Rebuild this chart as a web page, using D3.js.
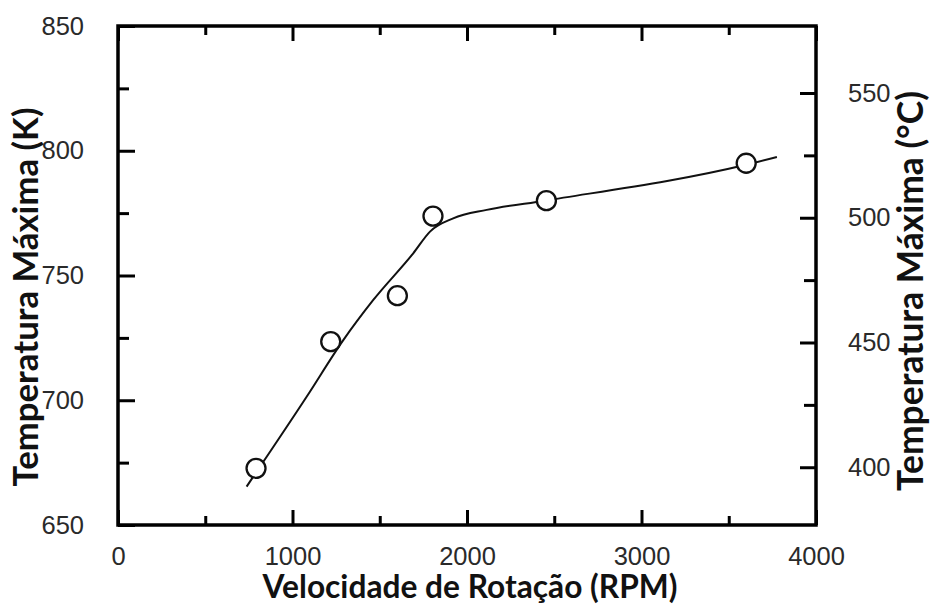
<!DOCTYPE html>
<html>
<head>
<meta charset="utf-8">
<script src="https://cdn.jsdelivr.net/npm/d3@7"></script>
<style>
  html, body { margin: 0; padding: 0; background: #fff; }
  svg { display: block; }
</style>
</head>
<body>
<svg id="chart" width="930" height="608"></svg>
<script>
// ---- data ----
const rpm = [791, 1219, 1601, 1805, 2455, 3600];
const tempK = [672.7, 723.5, 741.9, 773.8, 780, 795];
const fitRpm = [737, 1081, 1291, 1463, 1692, 1788, 1921, 2113, 2447, 3593, 3776];
const fitK = [665.4, 701.4, 724.1, 740.2, 758.9, 767.6, 772.9, 776.3, 780, 794.3, 797.5];
const xTicks = [0, 1000, 2000, 3000, 4000];
const xMinor = [500, 1500, 2500, 3500];
const yTicksK = [650, 700, 750, 800, 850];
const yMinorK = [675, 725, 775, 825];
const yTicksC = [400, 450, 500, 550];
const yMinorC = [425, 475, 525];
const xTitle = "Velocidade de Rotação (RPM)";
const yTitleL = "Temperatura Máxima (K)";
const yTitleR = "Temperatura Máxima (°C)";

const svg = d3.select("#chart");
const L = 118, R = 816, T = 26, B = 525;
const x = d3.scaleLinear().domain([0, 4000]).range([L, R]);
const y = d3.scaleLinear().domain([650, 850]).range([B, T]);
const yC = d3.scaleLinear().domain([650 - 273.15, 850 - 273.15]).range([B, T]);

const tickFont = "'Liberation Sans', Arial, sans-serif";
const titleFont = "Lato, 'Open Sans', sans-serif";

function styleAxis(g) {
  g.select(".domain").remove();
  g.selectAll("line").attr("stroke", "#000").attr("stroke-width", 3);
  g.selectAll("text").attr("font-family", tickFont).attr("font-size", 25.5).attr("fill", "#2a2a2a");
}
// bottom
svg.append("g").attr("transform", `translate(0,${B})`)
  .call(d3.axisBottom(x).tickValues(xTicks).tickSize(-15).tickPadding(22).tickFormat(d3.format("d")))
  .call(styleAxis);
svg.append("g").attr("transform", `translate(0,${B})`)
  .call(d3.axisBottom(x).tickValues(xMinor).tickSize(-9).tickFormat(""))
  .call(styleAxis);
// top
svg.append("g").attr("transform", `translate(0,${T})`)
  .call(d3.axisTop(x).tickValues(xTicks).tickSize(-15).tickFormat(""))
  .call(styleAxis);
svg.append("g").attr("transform", `translate(0,${T})`)
  .call(d3.axisTop(x).tickValues(xMinor).tickSize(-9).tickFormat(""))
  .call(styleAxis);
// left
svg.append("g").attr("transform", `translate(${L},0)`)
  .call(d3.axisLeft(y).tickValues(yTicksK).tickSize(-17).tickPadding(34).tickFormat(d3.format("d")))
  .call(styleAxis);
svg.append("g").attr("transform", `translate(${L},0)`)
  .call(d3.axisLeft(y).tickValues(yMinorK).tickSize(-11).tickFormat(""))
  .call(styleAxis);
// right (°C)
svg.append("g").attr("transform", `translate(${R},0)`)
  .call(d3.axisRight(yC).tickValues(yTicksC).tickSize(-16).tickPadding(32).tickFormat(d3.format("d")))
  .call(styleAxis);
svg.append("g").attr("transform", `translate(${R},0)`)
  .call(d3.axisRight(yC).tickValues(yMinorC).tickSize(-12).tickFormat(""))
  .call(styleAxis);

// frame
svg.append("rect").attr("x", L).attr("y", T).attr("width", R - L).attr("height", B - T)
  .attr("fill", "none").attr("stroke", "#000").attr("stroke-width", 3.5);

// fitted curve
const line = d3.line().x((d, i) => x(fitRpm[i])).y((d, i) => y(fitK[i])).curve(d3.curveMonotoneX);
svg.append("path").datum(fitRpm).attr("d", line)
  .attr("fill", "none").attr("stroke", "#111").attr("stroke-width", 2);

// points
svg.selectAll("circle.pt").data(rpm).join("circle").attr("class", "pt")
  .attr("cx", d => x(d)).attr("cy", (d, i) => y(tempK[i])).attr("r", 9.5)
  .attr("fill", "#fff").attr("stroke", "#111").attr("stroke-width", 2.3);

// titles, fitted to measured lengths
function fitText(t, target) {
  const len = t.node().getComputedTextLength();
  const fs = +t.attr("font-size");
  t.attr("font-size", fs * target / len);
}
const tx = svg.append("text").text(xTitle)
  .attr("x", 470).attr("y", 598).attr("text-anchor", "middle")
  .attr("font-family", titleFont).attr("font-weight", "bold").attr("font-size", 24).attr("fill", "#111");
fitText(tx, 415);
const tl = svg.append("text").text(yTitleL)
  .attr("transform", "translate(38,297) rotate(-90)").attr("text-anchor", "middle")
  .attr("font-family", titleFont).attr("font-weight", "bold").attr("font-size", 24).attr("fill", "#111");
fitText(tl, 379);
const tr = svg.append("text").text(yTitleR)
  .attr("transform", "translate(923,291) rotate(-90)").attr("text-anchor", "middle")
  .attr("font-family", titleFont).attr("font-weight", "bold").attr("font-size", 24).attr("fill", "#111");
fitText(tr, 400);
</script>
</body>
</html>
